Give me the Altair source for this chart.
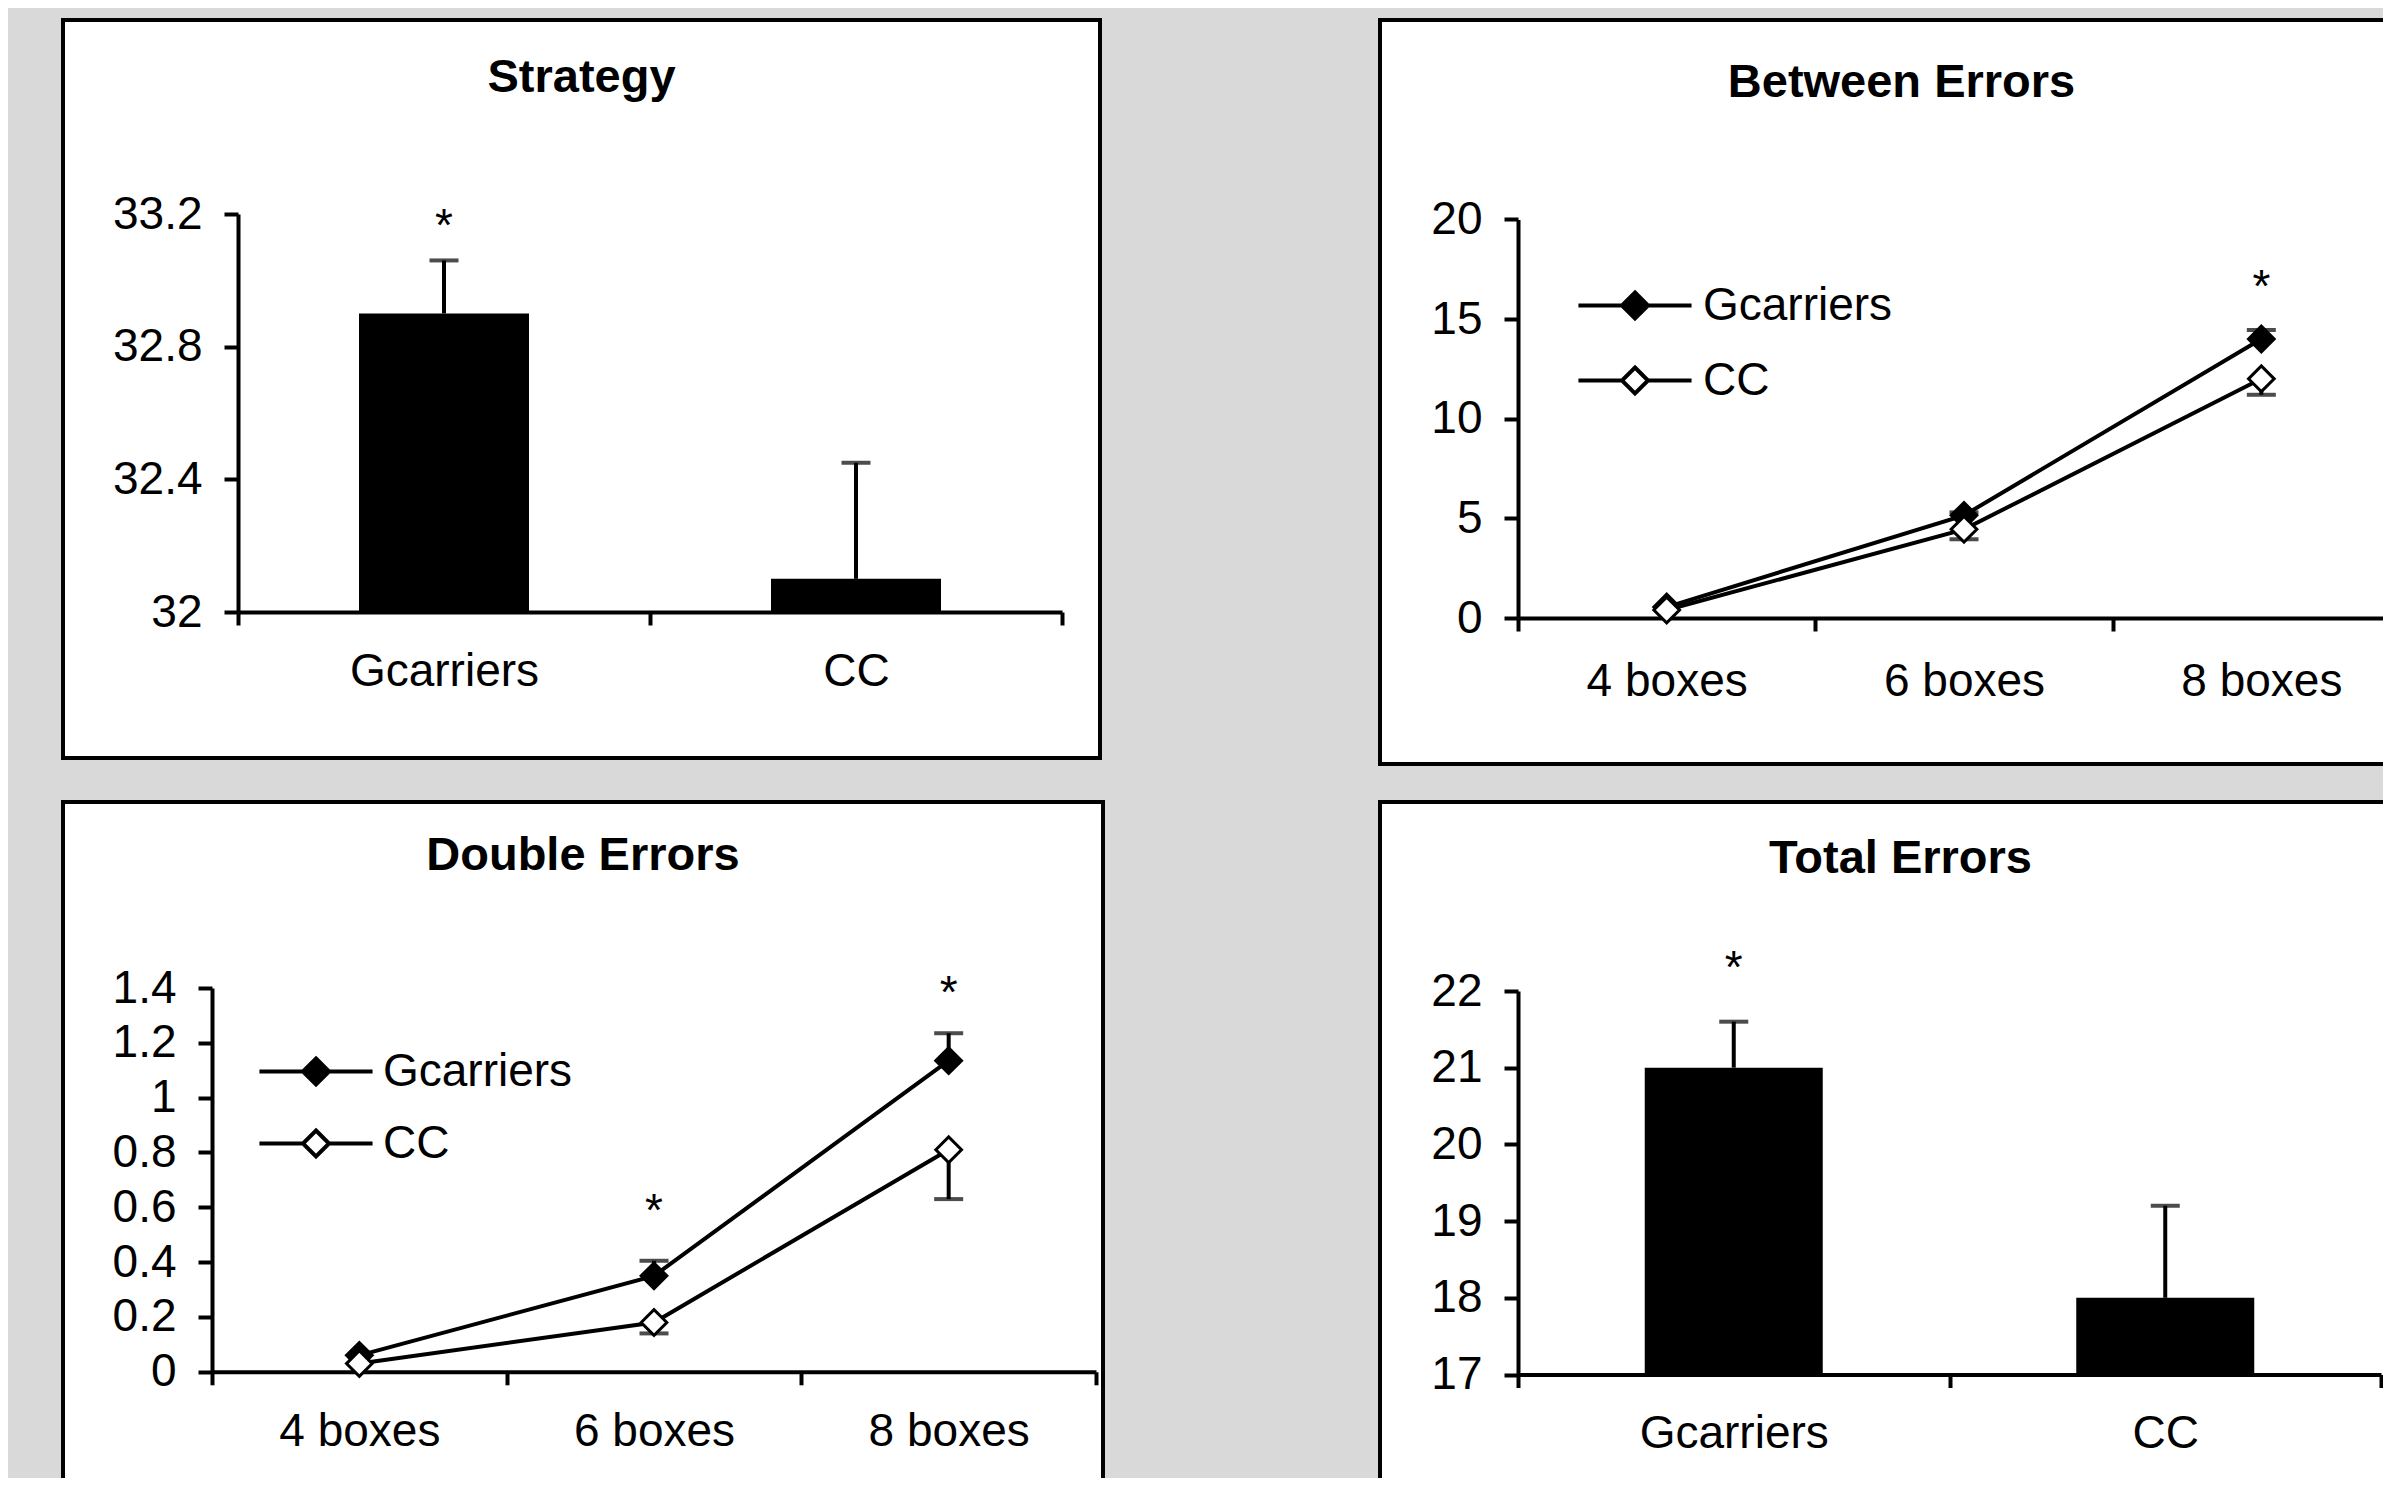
import altair as alt
import pandas as pd

FONT = "Liberation Sans"
BG = "#d9d9d9"
LABEL_SIZE = 46
TITLE_SIZE = 47
TITLE_SHIFT = 46.5
LW = 4

# ---------------- data ----------------
groups = ["Gcarriers", "CC"]
boxes = ["4 boxes", "6 boxes", "8 boxes"]

strategy_mean = [32.9, 32.1]
strategy_err = [33.06, 32.45]
strategy_star = 33.12
strategy_ticks = [32, 32.4, 32.8, 33.2]

total_mean = [21.0, 18.0]
total_err = [21.6, 19.2]
total_star = 22.11
total_ticks = [17, 18, 19, 20, 21, 22]

between_g = [0.55, 5.15, 14.0]
between_g_err = [0.55, 5.3, 14.45]
between_cc = [0.4, 4.45, 12.0]
between_cc_err = [0.4, 3.95, 11.2]
between_star_box = ["8 boxes"]
between_star_y = [15.85]
between_ticks = [0, 5, 10, 15, 20]

double_g = [0.06, 0.35, 1.135]
double_g_err = [0.06, 0.405, 1.235]
double_cc = [0.03, 0.18, 0.81]
double_cc_err = [0.03, 0.14, 0.63]
double_star_box = ["6 boxes", "8 boxes"]
double_star_y = [0.533, 1.327]
double_ticks = [0, 0.2, 0.4, 0.6, 0.8, 1, 1.2, 1.4]

LEGEND_PATH = "M-4.04,0H-0.93M0.93,0H4.04M0,-0.93L0.93,0L0,0.93L-0.93,0Z"


def make_title(text, dx, base_y):
    return alt.TitleParams(
        text=text, font=FONT, fontSize=TITLE_SIZE, fontWeight="bold", color="black",
        anchor="middle", frame="group", baseline="alphabetic",
        offset=-(base_y + TITLE_SHIFT), dx=dx,
    )


def axes(xr, yr, height, ticks, fmt, lpad):
    xax = alt.Axis(title=None, orient="bottom", offset=yr[0] - height, tickBand="extent",
                   tickSize=13, labelPadding=lpad, labelAngle=0, labelLimit=0)
    yax = alt.Axis(title=None, orient="left", offset=-xr[0], values=ticks, format=fmt,
                   tickSize=14, labelPadding=22, labelOverlap=False)
    return xax, yax


def bar_panel(title, title_dx, title_y, means, errs, star_y, ticks, width, height, xr, yr, bar_w):
    df = pd.DataFrame({"group": groups, "mean": means, "err": errs,
                       "base": [ticks[0]] * len(groups)})
    sdf = pd.DataFrame({"group": [groups[0]], "y": [star_y]})
    xs = alt.Scale(domain=groups, range=xr, paddingInner=0, paddingOuter=0)
    ys = alt.Scale(domain=[ticks[0], ticks[-1]], range=yr, zero=False, nice=False)
    xax, yax = axes(xr, yr, height, ticks, "~g", 24)
    X = alt.X("group:N", scale=xs, axis=xax, sort=groups)
    base = alt.Chart(df)
    bars = base.mark_bar(width=bar_w, color="black").encode(
        x=X, y=alt.Y("mean:Q", scale=ys, axis=yax), y2="base:Q")
    rule = base.mark_rule(color="black", strokeWidth=LW).encode(
        x=X, y=alt.Y("mean:Q", scale=ys, axis=yax), y2="err:Q")
    cap = base.mark_tick(color="black", orient="horizontal", size=29, thickness=LW).encode(
        x=X, y=alt.Y("err:Q", scale=ys, axis=yax))
    star = alt.Chart(sdf).mark_text(text="*", font=FONT, fontSize=LABEL_SIZE, color="black",
                                    baseline="alphabetic").encode(
        x=X, y=alt.Y("y:Q", scale=ys, axis=yax))
    return alt.layer(bars, rule, cap, star).properties(
        width=width, height=height, title=make_title(title, title_dx, title_y))


def line_panel(title, title_dx, title_y, g, g_err, cc, cc_err, star_box, star_y, ticks,
               width, height, xr, yr, lx, ly, lrow, loff, lpad):
    df = pd.DataFrame({
        "box": boxes * 2,
        "series": [groups[0]] * 3 + [groups[1]] * 3,
        "val": g + cc,
        "err": g_err + cc_err,
    })
    sdf = pd.DataFrame({"box": star_box, "y": star_y})
    xs = alt.Scale(type="band", domain=boxes, range=xr, paddingInner=0, paddingOuter=0)
    ys = alt.Scale(domain=[ticks[0], ticks[-1]], range=yr, zero=False, nice=False)
    xax, yax = axes(xr, yr, height, ticks, "~g", lpad)
    X = alt.X("box:N", scale=xs, axis=xax, sort=boxes)
    Y = alt.Y("val:Q", scale=ys, axis=yax)
    base = alt.Chart(df)
    lines = base.mark_line(color="black", strokeWidth=LW).encode(x=X, y=Y, detail="series:N")
    errs = base.transform_filter("datum.err != datum.val")
    rule = errs.mark_rule(color="black", strokeWidth=LW).encode(x=X, y=Y, y2="err:Q")
    cap = errs.mark_tick(color="black", orient="horizontal", size=29, thickness=LW).encode(
        x=X, y=alt.Y("err:Q", scale=ys, axis=yax))
    pts = base.mark_point(shape="diamond", size=660, stroke="black", strokeWidth=3,
                          opacity=1, fillOpacity=1, strokeOpacity=1).encode(
        x=X, y=Y,
        fill=alt.Fill("series:N", scale=alt.Scale(domain=groups, range=["black", "white"]),
                      legend=alt.Legend(
                          title=None, orient="none", legendX=lx, legendY=ly, padding=0,
                          symbolType=LEGEND_PATH, symbolSize=784,
                          symbolStrokeColor="black", symbolStrokeWidth=LW,
                          labelFont=FONT, labelFontSize=LABEL_SIZE, labelColor="black",
                          labelOffset=loff, rowPadding=lrow, labelLimit=0,
                      )),
        order=alt.Order("order:Q"),
    ).transform_calculate(order="datum.series == 'Gcarriers' ? 0 : 1")
    star = alt.Chart(sdf).mark_text(text="*", font=FONT, fontSize=LABEL_SIZE, color="black",
                                    baseline="alphabetic").encode(
        x=X, y=alt.Y("y:Q", scale=ys, axis=yax))
    return alt.layer(lines, rule, cap, pts, star).properties(
        width=width, height=height, title=make_title(title, title_dx, title_y))


p1 = bar_panel("Strategy", 0, 72, strategy_mean, strategy_err, strategy_star, strategy_ticks,
               1037, 738, [175, 999], [592, 194], 170)
p2 = line_panel("Between Errors", 8, 77, between_g, between_g_err, between_cc, between_cc_err,
                between_star_box, between_star_y, between_ticks,
                1027, 744, [138, 1030], [598, 199.4], 232, 262.5, 29, 45, 28)
p3 = line_panel("Double Errors", 0, 68.7, double_g, double_g_err, double_cc, double_cc_err,
                double_star_box, double_star_y, double_ticks,
                1040, 705, [149, 1033], [569.8, 186], 230, 246.5, 26, 44, 25)
p4 = bar_panel("Total Errors", 7, 71, total_mean, total_err, total_star, total_ticks,
               1027, 705, [138, 1001], [572.5, 189], 178)

chart = alt.concat(
    p1, p2, p3, p4, columns=2, spacing={"row": 38, "column": 277}, bounds="flush"
).resolve_scale(
    x="independent", y="independent", fill="independent"
).resolve_legend(
    fill="independent"
).properties(
    padding={"left": 53, "top": 10, "right": -31, "bottom": -31},
).configure(background=BG).configure_view(
    stroke="black", strokeWidth=4, fill="white"
).configure_axis(
    domainColor="black", domainWidth=LW, tickColor="black", tickWidth=LW,
    labelFont=FONT, labelFontSize=LABEL_SIZE, labelColor="black", grid=False, zindex=1,
)

chart.save("out.html", embed_options={"renderer": "svg", "actions": False})
